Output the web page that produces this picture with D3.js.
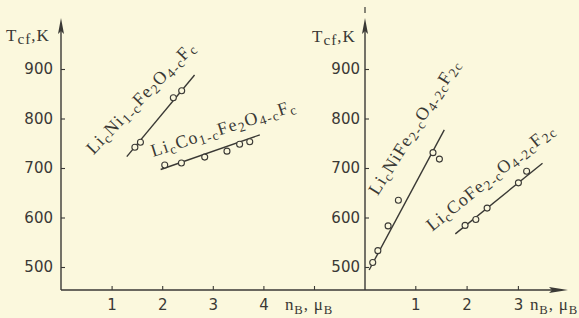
<!DOCTYPE html>
<html>
<head>
<meta charset="utf-8">
<script src="https://cdn.jsdelivr.net/npm/d3@7"></script>
<style>
  html, body { margin: 0; padding: 0; background: #fbf8dd; }
  svg { display: block; }
</style>
</head>
<body>
<svg id="chart" width="579" height="318"></svg>
<script>
// ---------------- DATA ----------------
const yTicks = [500, 600, 700, 800, 900];
const leftXTicks = [1, 2, 3, 4, 5];
const leftXTickLabels = ["1", "2", "3", "4", ""];
const rightXTicks = [1, 2, 3];
const rightXTickLabels = ["1", "2", "3"];

// Left panel: LicNi1-cFe2O4-cFc
const leftNiX = [1.46, 1.57, 2.22, 2.385];
const leftNiY = [742, 752, 842, 856];
const leftNiLineX = [1.30, 2.64];
const leftNiLineY = [723, 888];

// Left panel: LicCo1-cFe2O4-cFc
const leftCoX = [2.05, 2.38, 2.84, 3.28, 3.53, 3.73];
const leftCoY = [706, 710, 722, 734, 748, 753];
const leftCoLineX = [1.97, 3.93];
const leftCoLineY = [697, 767];

// Right panel: LicNiFe2-cO4-2cF2c
const rightNiX = [0.17, 0.27, 0.47, 0.67, 1.345, 1.47];
const rightNiY = [509, 533, 583, 635, 731, 718];
const rightNiLineX = [0.10, 1.565];
const rightNiLineY = [494, 777];

// Right panel: LicCoFe2-cO4-2cF2c
const rightCoX = [1.97, 2.18, 2.40, 3.01, 3.17];
const rightCoY = [584, 596, 619, 670, 693.5];
const rightCoLineX = [1.78, 3.48];
const rightCoLineY = [567, 709.5];

// label parts: [text, isSubscript]
const labelLeftNi = [["Li",0],["c",1],["Ni",0],["1-c",1],["Fe",0],["2",1],["O",0],["4-c",1],["F",0],["c",1]];
const labelLeftCo = [["Li",0],["c",1],["Co",0],["1-c",1],["Fe",0],["2",1],["O",0],["4-c",1],["F",0],["c",1]];
const labelRightNi = [["Li",0],["c",1],["NiFe",0],["2-c",1],["O",0],["4-2c",1],["F",0],["2c",1]];
const labelRightCo = [["Li",0],["c",1],["CoFe",0],["2-c",1],["O",0],["4-2c",1],["F",0],["2c",1]];

// ---------------- DRAWING ----------------
const ink = "#3a3935";
const svg = d3.select("#chart");

const yBottomPx = 290, yTopPx = 18;
const y = d3.scaleLinear().domain([500, 900]).range([267, 69]);
const xL = d3.scaleLinear().domain([0, 5]).range([61, 314]);
const xR = d3.scaleLinear().domain([0, 1]).range([364, 415.3]);
const axLx = xL(0), axRx = 365;

// bottom axis line with arrow
svg.append("line").attr("x1", axLx).attr("x2", 562).attr("y1", yBottomPx).attr("y2", yBottomPx)
  .attr("stroke", ink).attr("stroke-width", 1.4);
svg.append("path").attr("d", `M568,${yBottomPx} L549,${yBottomPx-3} L552,${yBottomPx} L549,${yBottomPx+3} Z`).attr("fill", ink);

// vertical axes with arrows
function vAxis(x) {
  svg.append("line").attr("x1", x).attr("x2", x).attr("y1", yBottomPx).attr("y2", yTopPx + 10)
    .attr("stroke", ink).attr("stroke-width", 1.4);
  svg.append("path").attr("d", `M${x},${yTopPx} L${x-3},${yTopPx+16} L${x},${yTopPx+13} L${x+3},${yTopPx+16} Z`).attr("fill", ink);
}
vAxis(axLx);
vAxis(axRx);
// small mark above right axis
svg.append("line").attr("x1", axRx).attr("x2", axRx).attr("y1", 7).attr("y2", 13)
  .attr("stroke", ink).attr("stroke-width", 1.2);

// y axes
function yAxisAt(x) {
  const g = svg.append("g").attr("transform", `translate(${x},0)`)
    .call(d3.axisLeft(y).tickValues(yTicks).tickSize(-4).tickPadding(x === axLx ? 8 : 5));
  g.select(".domain").remove();
  g.selectAll(".tick line").attr("stroke", ink).attr("stroke-width", 1.1);
  g.selectAll(".tick text").attr("fill", ink).attr("font-family", "DejaVu Sans").attr("font-size", 15);
}
yAxisAt(axLx);
yAxisAt(axRx);

// x axes
function xAxis(scale, ticks, labels) {
  const g = svg.append("g").attr("transform", `translate(0,${yBottomPx})`)
    .call(d3.axisBottom(scale).tickValues(ticks).tickSize(-4).tickPadding(9)
      .tickFormat((d, i) => labels[i]));
  g.select(".domain").remove();
  g.selectAll(".tick line").attr("stroke", ink).attr("stroke-width", 1.1);
  g.selectAll(".tick text").attr("fill", ink).attr("font-family", "DejaVu Sans").attr("font-size", 15);
}
xAxis(xL, leftXTicks, leftXTickLabels);
xAxis(xR, rightXTicks, rightXTickLabels);

// text with subscripts
function subText(x, yy, parts, size, subScale, subDrop) {
  const t = svg.append("text").attr("x", x).attr("y", yy)
    .attr("font-family", "Liberation Serif").attr("font-size", size).attr("fill", ink);
  let prevSub = false;
  parts.forEach(([s, sub]) => {
    const ts = t.append("tspan").text(s);
    if (sub) ts.attr("font-size", size * subScale);
    if (sub && !prevSub) ts.attr("dy", size * subDrop);
    else if (!sub && prevSub) ts.attr("dy", -size * subDrop);
    prevSub = !!sub;
  });
  return t;
}
const yTitle = [["T",0],["cf",1],[",K",0]];
const xTitle = [["n",0],["B",1],[", μ",0],["B",1]];
subText(6, 41, yTitle, 17, 0.9, 0.2).attr("letter-spacing", 1);
subText(312, 42, yTitle, 17, 0.9, 0.2).attr("letter-spacing", 1);
subText(285, 310, xTitle, 17, 0.75, 0.22).attr("letter-spacing", 0.8);
subText(530, 310, xTitle, 17, 0.75, 0.22).attr("letter-spacing", 0.8);

// series
const line = d3.line().x(d => d[0]).y(d => d[1]);
function series(xs, ys, lx, ly, sx) {
  svg.append("path")
    .attr("d", line(lx.map((v, i) => [sx(v), y(ly[i])])))
    .attr("fill", "none").attr("stroke", ink).attr("stroke-width", 1.4);
  svg.append("g").selectAll("circle").data(xs.map((v, i) => [v, ys[i]])).join("circle")
    .attr("cx", d => sx(d[0])).attr("cy", d => y(d[1])).attr("r", 3)
    .attr("fill", "#fbf8dd").attr("stroke", ink).attr("stroke-width", 1.1);
}
series(leftNiX, leftNiY, leftNiLineX, leftNiLineY, xL);
series(leftCoX, leftCoY, leftCoLineX, leftCoLineY, xL);
series(rightNiX, rightNiY, rightNiLineX, rightNiLineY, xR);
series(rightCoX, rightCoY, rightCoLineX, rightCoLineY, xR);

// rotated formula labels
function formula(px, py, angle, parts, size, spacing) {
  const t = subText(0, 0, parts, size, 0.75, 0.18);
  t.attr("transform", `translate(${px},${py}) rotate(${angle})`)
   .attr("letter-spacing", spacing);
}
formula(xL(0.64), y(726), -46, labelLeftNi, 18, 1.2);
formula(xL(1.82), y(722), -18, labelLeftCo, 18, 1.2);
formula(xR(0.27), y(643), -58, labelRightNi, 18, 1.2);
formula(xR(1.33), y(571), -39, labelRightCo, 18, 1.2);
</script>
</body>
</html>
